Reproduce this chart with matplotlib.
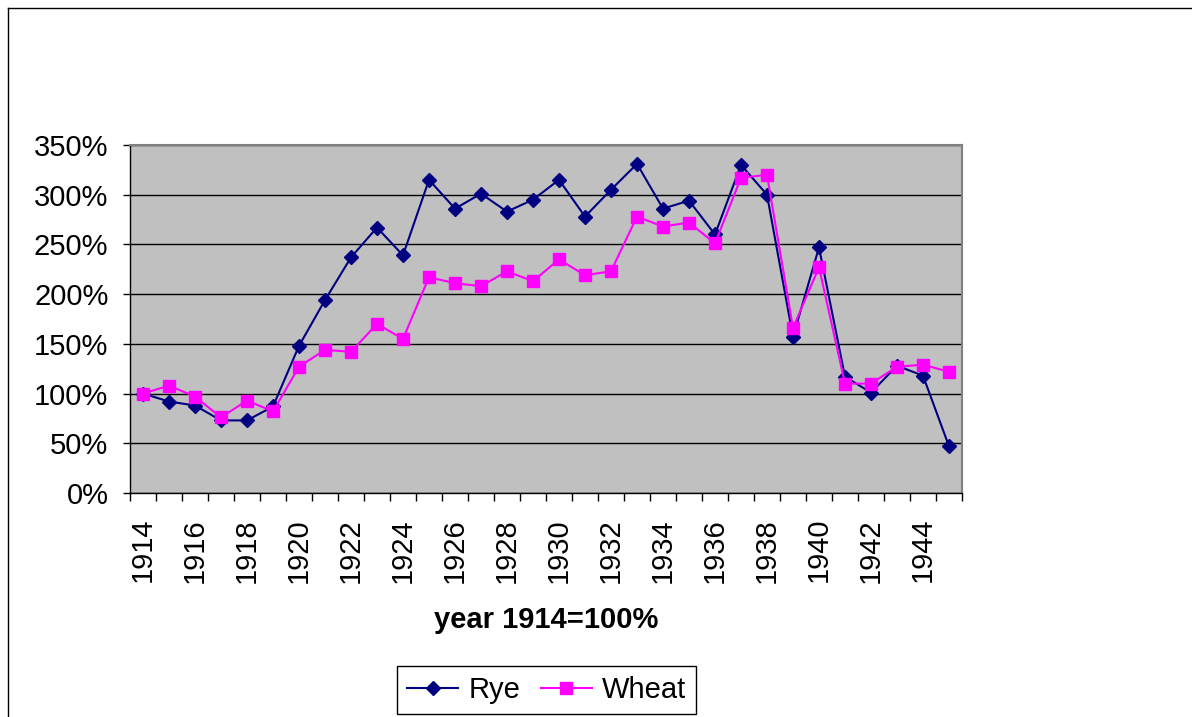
import matplotlib
matplotlib.use("Agg")
import matplotlib.pyplot as plt
from matplotlib.lines import Line2D
from matplotlib.ticker import FixedLocator, FuncFormatter

years = list(range(1914, 1946))
rye = [100, 92, 88, 73, 73, 87, 148, 194, 237, 267, 239, 315, 286, 301, 283, 295,
       315, 278, 305, 331, 286, 294, 260, 330, 300, 157, 247, 117, 101, 128, 118, 47]
wheat = [100, 108, 97, 76, 93, 82, 127, 144, 142, 170, 155, 217, 211, 208, 223, 213,
         235, 219, 223, 278, 268, 272, 251, 317, 320, 166, 227, 110, 110, 127, 129, 122]
y_ticks = [0, 50, 100, 150, 200, 250, 300, 350]

plt.rcParams['font.family'] = ['Liberation Sans', 'DejaVu Sans']

W, H = 1192, 717
fig = plt.figure(figsize=(W / 100, H / 100), dpi=100)
fig.patch.set_facecolor('white')

# chart-area border (top and left visible)
fig.add_artist(Line2D([8 / W, 1.0], [1 - 8 / H, 1 - 8 / H], color='black', lw=1.0, transform=fig.transFigure))
fig.add_artist(Line2D([8 / W, 8 / W], [0.0, 1 - 8 / H], color='black', lw=1.0, transform=fig.transFigure))

left, right, top, bottom = 130, 962, 145, 493
ax = fig.add_axes([left / W, 1 - bottom / H, (right - left) / W, (bottom - top) / H])
ax.set_facecolor('#C0C0C0')

x = list(range(len(years)))
ax.plot(x, rye, color='#000080', lw=1.5, marker='D', ms=6.8, mfc='#000080', mec='#000080', label='Rye', zorder=3)
ax.plot(x, wheat, color='#FF00FF', lw=1.5, marker='s', ms=8.0, mfc='#FF00FF', mec='#FF00FF', label='Wheat', zorder=4)

ax.set_xlim(-0.5, len(years) - 0.5)
ax.set_ylim(0, 350)

ax.yaxis.set_major_locator(FixedLocator(y_ticks))
ax.yaxis.set_major_formatter(FuncFormatter(lambda v, p: f"{int(v)}%"))
ax.grid(axis='y', color='black', lw=1.0)
ax.set_axisbelow(True)

ax.set_xticks(x[::2])
ax.set_xticklabels([str(y) for y in years[::2]], rotation=90)
ax.set_xticks([i - 0.5 for i in range(len(years) + 1)], minor=True)
ax.tick_params(axis='x', which='major', length=0, pad=18, labelsize=21)
ax.tick_params(axis='x', which='minor', length=6, width=1, color='black', direction='out')
ax.tick_params(axis='y', which='major', length=5, width=1, color='black', pad=10.5, labelsize=21)

for s in ['top', 'right']:
    ax.spines[s].set_color('#808080')
    ax.spines[s].set_linewidth(1.5)
for s in ['left', 'bottom']:
    ax.spines[s].set_color('black')
    ax.spines[s].set_linewidth(1.0)

ax.set_xlabel('year 1914=100%', fontsize=21, fontweight='bold')
ax.xaxis.set_label_coords(0.5, -0.365)
ax.xaxis.label.set_va('center')

leg = fig.legend(loc='center', bbox_to_anchor=(546.5 / W, 1 - 690 / H), ncol=2, fontsize=21,
                 frameon=True, fancybox=False, edgecolor='black', framealpha=1,
                 handlelength=1.75, handletextpad=0.35, columnspacing=0.7, borderpad=0.35,
                 borderaxespad=0)
leg.get_frame().set_linewidth(1.0)

fig.savefig('out.png', dpi=100)
